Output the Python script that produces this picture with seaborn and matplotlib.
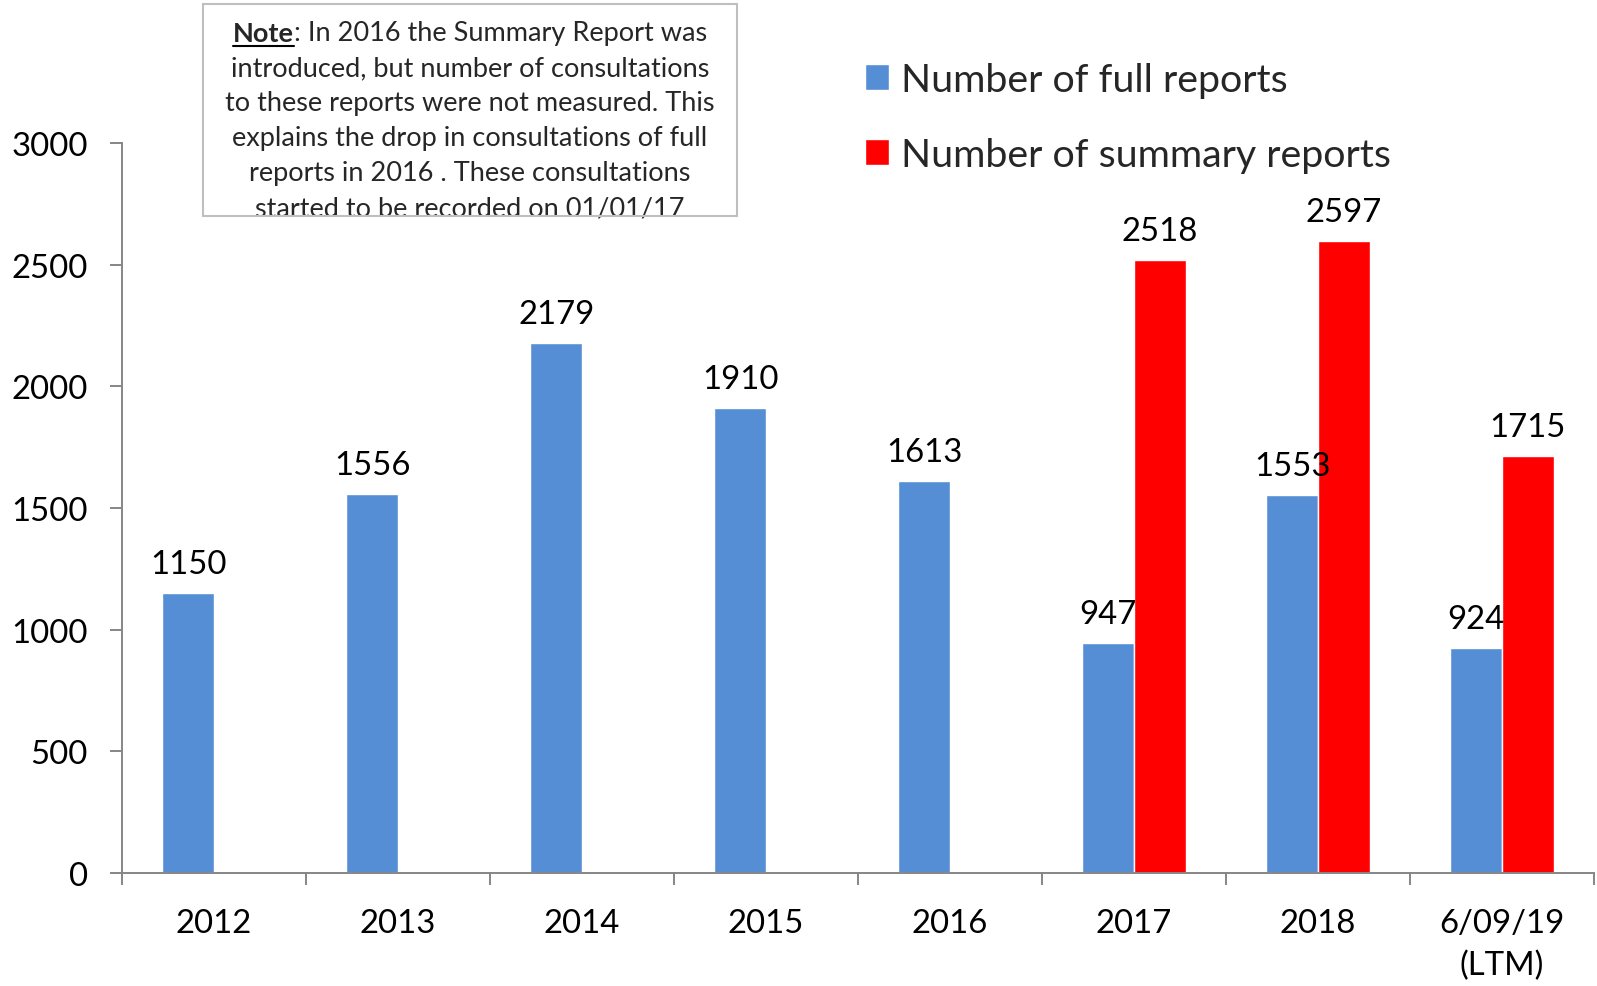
import numpy as np
import pandas as pd
import seaborn as sns
import matplotlib.pyplot as plt
from matplotlib.patches import Rectangle
from matplotlib.lines import Line2D

categories = ["2012", "2013", "2014", "2015", "2016", "2017", "2018", "6/09/19\n(LTM)"]
full_reports = [1150, 1556, 2179, 1910, 1613, 947, 1553, 924]
summary_periods = ["2017", "2018", "6/09/19\n(LTM)"]
summary_reports = [2518, 2597, 1715]
series_names = ["Number of full reports", "Number of summary reports"]
colors = ["#558ED5", "#FF0000"]
note_lines = [
    "introduced, but number of consultations",
    "to these reports were not measured. This",
    "explains the drop in consultations of full",
    "reports in 2016 . These consultations",
    "started to be recorded on 01/01/17",
]

df = pd.concat([
    pd.DataFrame({"period": categories, "count": full_reports, "series": series_names[0]}),
    pd.DataFrame({"period": summary_periods, "count": summary_reports, "series": series_names[1]}),
], ignore_index=True)

sns.set_theme(style="white")
plt.rcParams["font.family"] = ["Lato", "DejaVu Sans"]
axis_grey = "#868686"

W, H = 1597, 987
fig = plt.figure(figsize=(W / 100, H / 100), dpi=100)
ax = fig.add_axes([122 / W, 1 - 874 / H, (1594 - 122) / W, (874 - 144) / H])

sns.barplot(data=df, x="period", y="count", hue="series", order=categories,
            hue_order=series_names, palette=colors, width=0.56, saturation=1,
            errorbar=None, ax=ax)

ax.set_xlim(-0.5, len(categories) - 0.5)
ax.set_ylim(0, 3000)
ax.set_yticks(np.arange(0, 3001, 500))
ax.set_xlabel("")
ax.set_ylabel("")

for side in ["top", "right"]:
    ax.spines[side].set_visible(False)
for side in ["left", "bottom"]:
    ax.spines[side].set_color(axis_grey)
    ax.spines[side].set_linewidth(1.4)

tick_fs = 23.7
ax.tick_params(axis="y", length=8.6, width=1.4, color=axis_grey, pad=16,
               labelsize=tick_fs, labelcolor="black", left=True)
ax.set_xticks(np.arange(len(categories)))
ax.set_xticklabels(categories)
ax.set_xticks(np.arange(-0.5, len(categories)), minor=True)
ax.tick_params(axis="x", which="major", length=0, pad=25, labelsize=tick_fs,
               labelcolor="black", bottom=True)
ax.tick_params(axis="x", which="minor", length=8.6, width=1.4, color=axis_grey, bottom=True)
for lbl in ax.get_xticklabels():
    lbl.set_linespacing(1.5)

# value labels
for cont in ax.containers:
    ax.bar_label(cont, fmt="%d", padding=10, fontsize=tick_fs, color="black")

# legend
handles, labels = ax.get_legend_handles_labels()
ax.legend(handles, labels, loc="upper left", bbox_to_anchor=(865 / W, 1 - 63 / H),
          bbox_transform=fig.transFigure, frameon=False, fontsize=28.4,
          handlelength=0.62, handleheight=0.62, handletextpad=0.3,
          labelspacing=0.99, borderpad=0, borderaxespad=0)

# note box
bx0, by0, bx1, by1 = 203, 5, 737, 217
fig.patches.append(Rectangle((bx0 / W, 1 - by1 / H), (bx1 - bx0) / W, (by1 - by0) / H,
                             transform=fig.transFigure, facecolor="white",
                             edgecolor="none", zorder=4))
note_fs = 19.5
cx = (bx0 + bx1) / 2 / W
line_y = [34, 69, 104, 138.5, 174, 209]
for y, txt in zip(line_y[1:], note_lines):
    fig.text(cx, 1 - y / H, txt, ha="center", va="center", fontsize=note_fs, zorder=5)

t_bold = fig.text(0, 1 - line_y[0] / H, "Note", fontweight="bold", fontsize=note_fs,
                  ha="left", va="center", zorder=5)
t_rest = fig.text(0, 1 - line_y[0] / H, ": In 2016 the Summary Report was",
                  fontsize=note_fs, ha="left", va="center", zorder=5)
renderer = fig.canvas.get_renderer()
wb = t_bold.get_window_extent(renderer).width
wr = t_rest.get_window_extent(renderer).width
start = (bx0 + bx1) / 2 - (wb + wr) / 2
t_bold.set_x(start / W)
t_rest.set_x((start + wb) / W)
uy = 1 - (line_y[0] + 13) / H
fig.lines.append(Line2D([start / W, (start + wb) / W], [uy, uy], transform=fig.transFigure,
                        color="black", linewidth=1.5, zorder=5))
fig.patches.append(Rectangle((bx0 / W, 1 - by1 / H), (bx1 - bx0) / W, (by1 - by0) / H,
                             transform=fig.transFigure, facecolor="none",
                             edgecolor="#BFBFBF", linewidth=1.5, zorder=6))

fig.savefig("out.png", dpi=100)
